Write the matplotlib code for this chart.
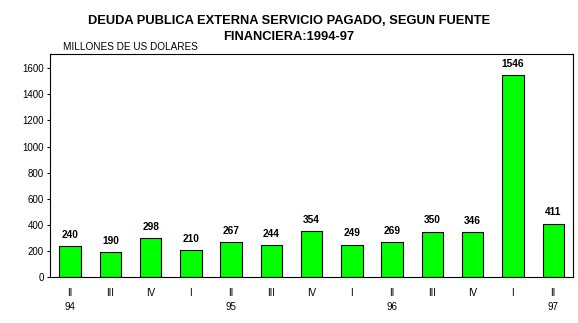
import matplotlib
matplotlib.use("Agg")
import matplotlib.pyplot as plt
import matplotlib.transforms as mtransforms

# Datos del grafico
trimestres = ["II", "III", "IV", "I", "II", "III", "IV", "I", "II", "III", "IV", "I", "II"]
anios = {0: "94", 4: "95", 8: "96", 12: "97"}
valores = [240, 190, 298, 210, 267, 244, 354, 249, 269, 350, 346, 1546, 411]

titulo1 = "DEUDA PUBLICA EXTERNA SERVICIO PAGADO, SEGUN FUENTE"
titulo2 = "FINANCIERA:1994-97"
unidad = "MILLONES DE US DOLARES"

plt.rcParams['font.family'] = ['Liberation Sans', 'DejaVu Sans']

fig = plt.figure(figsize=(5.78, 3.23), dpi=100)
ax = fig.add_axes([50 / 578, 1 - 277.3 / 323, 523.3 / 578, 223 / 323])

x = list(range(len(valores)))
ax.bar(x, valores, width=0.53, color="#00ff00", edgecolor="black", linewidth=0.8)

for xi, v in zip(x, valores):
    ax.annotate(str(v), (xi, v), xytext=(0, 4.5), textcoords="offset points",
                ha="center", va="bottom", fontsize=7.3, fontweight="bold")

ax.set_xlim(-0.5, 12.5)
ax.set_ylim(0, 1705)
ax.set_yticks(range(0, 1601, 200))
ax.tick_params(axis="y", direction="out", length=2.5, width=0.8, labelsize=7, pad=2)
ax.set_xticks(x)
ax.set_xticklabels(trimestres)
ax.tick_params(axis="x", length=0, labelsize=7, pad=7.5)

for s in ax.spines.values():
    s.set_linewidth(0.8)

trans = mtransforms.blended_transform_factory(ax.transData, ax.transAxes)
for i, a in anios.items():
    ax.text(i, -0.135, a, transform=trans, ha="center", va="center", fontsize=7)

fig.text(0.5, 1 - 21 / 323, titulo1, ha="center", va="center", fontsize=9.3,
         fontweight="bold")
fig.text(0.5, 1 - 36.5 / 323, titulo2, ha="center", va="center", fontsize=9.3,
         fontweight="bold")
fig.text(62.7 / 578, 1 - 46.5 / 323, unidad, ha="left", va="center", fontsize=7.2)

fig.savefig("out.png", dpi=100)
